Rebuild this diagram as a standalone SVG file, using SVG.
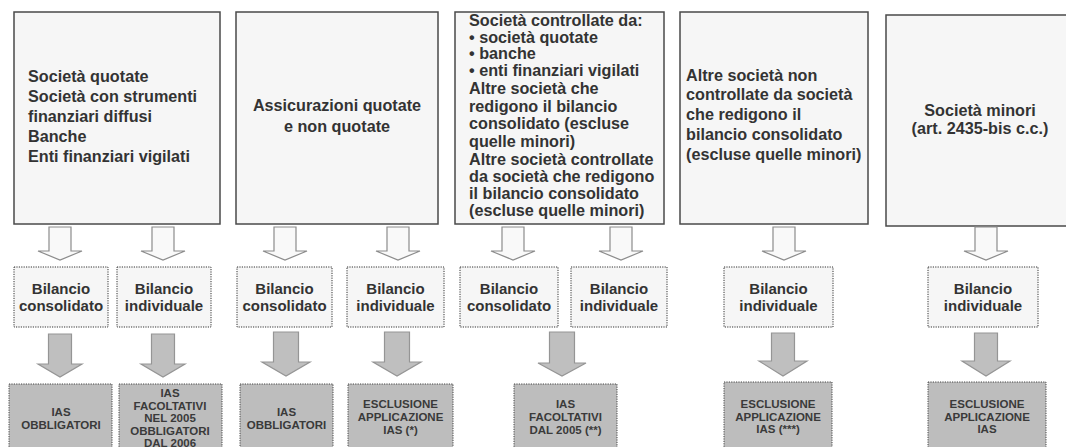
<svg xmlns="http://www.w3.org/2000/svg" width="1066" height="447" viewBox="0 0 1066 447">
<style>
.top{fill:#f6f6f6;stroke:#4a4a4a;stroke-width:1.5}
.mid{fill:#f6f6f6;stroke:#333;stroke-width:1;stroke-dasharray:1.2 1.2}
.bot{fill:#bdbdbd;stroke:#444;stroke-width:1;stroke-dasharray:1.2 1.2}
.ha{fill:#f9f9f9;stroke:#8c8c8c;stroke-width:1.2}
.ga{fill:#bfbfbf;stroke:#959595;stroke-width:1.2}
text{font-family:"Liberation Sans",Arial,sans-serif;font-weight:bold;fill:#333}
.t{font-size:16.2px}
.m{font-size:15px;text-anchor:middle}
.b{font-size:11.5px;text-anchor:middle;fill:#3a3a3a}
.c{text-anchor:middle}
</style>
<rect width="1066" height="447" fill="#fff"/>
<g id="top1"><rect class="top" x="14" y="12" width="206" height="212"/>
<text class="t" x="28" y="82">Società quotate</text>
<text class="t" x="28" y="102">Società con strumenti</text>
<text class="t" x="28" y="122">finanziari diffusi</text>
<text class="t" x="28" y="142">Banche</text>
<text class="t" x="28" y="162">Enti finanziari vigilati</text></g>
<g id="top2"><rect class="top" x="236" y="12" width="202" height="212"/>
<text class="t c" x="337" y="111">Assicurazioni quotate</text>
<text class="t c" x="337" y="132">e non quotate</text></g>
<g id="top3"><rect class="top" x="455" y="12" width="209" height="212"/>
<text class="t" x="469" y="26">Società controllate da:</text>
<text class="t" x="469" y="43">• società quotate</text>
<text class="t" x="469" y="59">• banche</text>
<text class="t" x="469" y="76">• enti finanziari vigilati</text>
<text class="t" x="469" y="94">Altre società che</text>
<text class="t" x="469" y="112">redigono il bilancio</text>
<text class="t" x="469" y="129">consolidato (escluse</text>
<text class="t" x="469" y="147">quelle minori)</text>
<text class="t" x="469" y="165">Altre società controllate</text>
<text class="t" x="469" y="182">da società che redigono</text>
<text class="t" x="469" y="199">il bilancio consolidato</text>
<text class="t" x="469" y="216">(escluse quelle minori)</text></g>
<g id="top4"><rect class="top" x="680" y="12" width="188" height="212"/>
<text class="t" x="686" y="81">Altre società non</text>
<text class="t" x="686" y="100">controllate da società</text>
<text class="t" x="686" y="120">che redigono il</text>
<text class="t" x="686" y="140">bilancio consolidato</text>
<text class="t" x="686" y="160">(escluse quelle minori)</text></g>
<g id="top5"><rect class="top" x="886" y="15" width="190" height="211"/>
<text class="t c" x="980" y="116">Società minori</text>
<text class="t c" x="980" y="134">(art. 2435-bis c.c.)</text></g>

<g id="connectors">
<path class="ha" d="M49,227H71V251H82L60,260L38,251H49Z"/>
<path class="ha" d="M152,227H174V251H185L163,260L141,251H152Z"/>
<path class="ha" d="M274,227H296V251H307L285,260L263,251H274Z"/>
<path class="ha" d="M387,227H409V251H420L398,260L376,251H387Z"/>
<path class="ha" d="M502,227H524V251H535L513,260L491,251H502Z"/>
<path class="ha" d="M610,227H632V251H643L621,260L599,251H610Z"/>
<path class="ha" d="M773,227H795V251H806L784,260L762,251H773Z"/>
<path class="ha" d="M975,227H997V251H1008L986,260L964,251H975Z"/>
<path class="ga" d="M48.5,334H71.5V364H82L60,377L38,364H48.5Z"/>
<path class="ga" d="M151.5,334H174.5V364H185L163,377L141,364H151.5Z"/>
<path class="ga" d="M273.5,332H298.5V362H310L286,376L262,362H273.5Z"/>
<path class="ga" d="M384.5,332H409.5V362H421L397,376L373,362H384.5Z"/>
<path class="ga" d="M549.5,332H574.5V363H586L562,376L538,363H549.5Z"/>
<path class="ga" d="M771.5,333H794.5V361H807L783,376L759,361H771.5Z"/>
<path class="ga" d="M974.5,333H997.5V361H1010L986,376L962,361H974.5Z"/>
</g>

<g id="mid1"><rect class="mid" x="14" y="267" width="94" height="60"/><text class="m" x="61" y="294">Bilancio</text><text class="m" x="61" y="311">consolidato</text></g>
<g id="mid2"><rect class="mid" x="117" y="267" width="94" height="60"/><text class="m" x="164" y="294">Bilancio</text><text class="m" x="164" y="311">individuale</text></g>
<g id="mid3"><rect class="mid" x="237" y="267" width="95" height="60"/><text class="m" x="284.5" y="294">Bilancio</text><text class="m" x="284.5" y="311">consolidato</text></g>
<g id="mid4"><rect class="mid" x="347" y="267" width="97" height="60"/><text class="m" x="395.5" y="294">Bilancio</text><text class="m" x="395.5" y="311">individuale</text></g>
<g id="mid5"><rect class="mid" x="460" y="267" width="98" height="60"/><text class="m" x="509" y="294">Bilancio</text><text class="m" x="509" y="311">consolidato</text></g>
<g id="mid6"><rect class="mid" x="571" y="267" width="96" height="60"/><text class="m" x="619" y="294">Bilancio</text><text class="m" x="619" y="311">individuale</text></g>
<g id="mid7"><rect class="mid" x="724" y="267" width="109" height="60"/><text class="m" x="778.5" y="294">Bilancio</text><text class="m" x="778.5" y="311">individuale</text></g>
<g id="mid8"><rect class="mid" x="928" y="267" width="110" height="60"/><text class="m" x="983" y="294">Bilancio</text><text class="m" x="983" y="311">individuale</text></g>

<g id="bot1"><rect class="bot" x="9" y="384" width="103" height="70"/><text class="b" x="61" y="416">IAS</text><text class="b" x="61" y="429">OBBLIGATORI</text></g>
<g id="bot2"><rect class="bot" x="119" y="384" width="103" height="70"/><text class="b" x="170" y="397">IAS</text><text class="b" x="170" y="409.5">FACOLTATIVI</text><text class="b" x="170" y="422">NEL 2005</text><text class="b" x="170" y="434.5">OBBLIGATORI</text><text class="b" x="170" y="447">DAL 2006</text></g>
<g id="bot3"><rect class="bot" x="240" y="384" width="93" height="70"/><text class="b" x="286.5" y="416">IAS</text><text class="b" x="286.5" y="429">OBBLIGATORI</text></g>
<g id="bot4"><rect class="bot" x="348" y="384" width="105" height="70"/><text class="b" x="400.5" y="408">ESCLUSIONE</text><text class="b" x="400.5" y="421">APPLICAZIONE</text><text class="b" x="400.5" y="434">IAS (*)</text></g>
<g id="bot5"><rect class="bot" x="514" y="384" width="103" height="70"/><text class="b" x="565.5" y="408">IAS</text><text class="b" x="565.5" y="421">FACOLTATIVI</text><text class="b" x="565.5" y="434">DAL 2005 (**)</text></g>
<g id="bot6"><rect class="bot" x="724" y="382" width="108" height="72"/><text class="b" x="778" y="408">ESCLUSIONE</text><text class="b" x="778" y="420.5">APPLICAZIONE</text><text class="b" x="778" y="433">IAS (***)</text></g>
<g id="bot7"><rect class="bot" x="928" y="382" width="118" height="72"/><text class="b" x="987" y="408">ESCLUSIONE</text><text class="b" x="987" y="420.5">APPLICAZIONE</text><text class="b" x="987" y="433">IAS</text></g>
</svg>
